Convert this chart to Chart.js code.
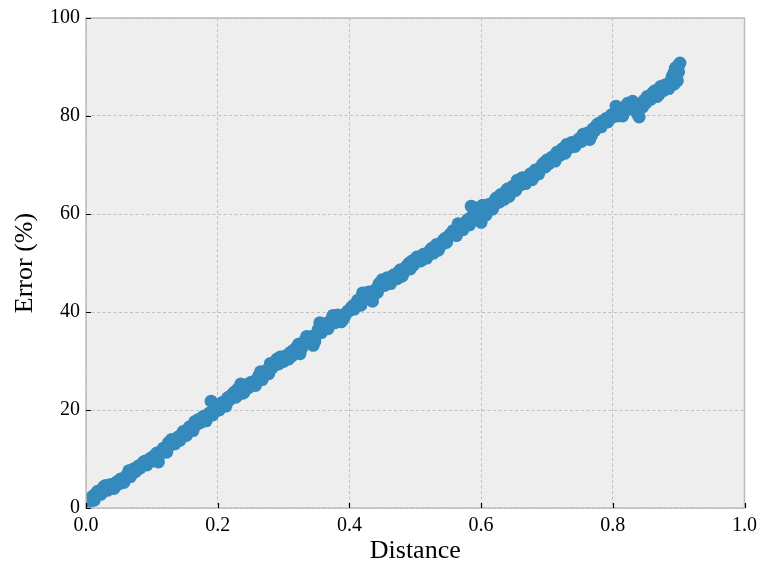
<!DOCTYPE html>
<html>
<head>
<meta charset="utf-8">
<script src="https://cdn.jsdelivr.net/npm/chart.js@4/dist/chart.umd.min.js"></script>
<style>
  html, body { margin: 0; padding: 0; background: #ffffff; }
  #wrap { width: 763px; height: 567px; }
</style>
</head>
<body>
<div id="wrap"><canvas id="c" width="763" height="567"></canvas></div>
<script>
// Distance vs. error measurements, run A
const distanceA = [
  0.000, 0.005, 0.010, 0.015, 0.020, 0.025, 0.030, 0.035, 0.040, 0.045,
  0.050, 0.055, 0.060, 0.065, 0.070, 0.075, 0.080, 0.085, 0.090, 0.095,
  0.100, 0.105, 0.110, 0.115, 0.120, 0.125, 0.130, 0.135, 0.140, 0.145,
  0.150, 0.155, 0.160, 0.165, 0.170, 0.175, 0.180, 0.185, 0.190, 0.195,
  0.200, 0.205, 0.210, 0.215, 0.220, 0.225, 0.230, 0.235, 0.240, 0.245,
  0.250, 0.255, 0.260, 0.265, 0.270, 0.275, 0.280, 0.285, 0.290, 0.295,
  0.300, 0.305, 0.310, 0.315, 0.320, 0.325, 0.330, 0.335, 0.340, 0.345,
  0.350, 0.355, 0.360, 0.365, 0.370, 0.375, 0.380, 0.385, 0.390, 0.395,
  0.400, 0.405, 0.410, 0.415, 0.420, 0.425, 0.430, 0.435, 0.440, 0.445,
  0.450, 0.455, 0.460, 0.465, 0.470, 0.475, 0.480, 0.485, 0.490, 0.495,
  0.500, 0.505, 0.510, 0.515, 0.520, 0.525, 0.530, 0.535, 0.540, 0.545,
  0.550, 0.555, 0.560, 0.565, 0.570, 0.575, 0.580, 0.585, 0.590, 0.595,
  0.600, 0.605, 0.610, 0.615, 0.620, 0.625, 0.630, 0.635, 0.640, 0.645,
  0.650, 0.655, 0.660, 0.665, 0.670, 0.675, 0.680, 0.685, 0.690, 0.695,
  0.700, 0.705, 0.710, 0.715, 0.720, 0.725, 0.730, 0.735, 0.740, 0.745,
  0.750, 0.755, 0.760, 0.765, 0.770, 0.775, 0.780, 0.785, 0.790, 0.795,
  0.800, 0.805, 0.810, 0.815, 0.820, 0.825, 0.830, 0.835, 0.840, 0.845,
  0.850, 0.855, 0.860, 0.865, 0.870, 0.875, 0.880, 0.885, 0.890, 0.895,
  0.900, 0.893, 0.898, 0.900, 0.902
];
const errorPctA = [
   1.2,  1.8,  2.4,  2.9,  3.3,  3.9,  4.6,  4.2,  4.5,  5.1,
   4.9,  5.6,  6.3,  7.6,  7.1,  7.4,  8.6,  8.9,  9.6,  9.4,
  10.3, 10.8,  9.4, 11.6, 12.0, 13.3, 14.0, 13.1, 14.5, 15.0,
  15.2, 16.1, 16.4, 17.6, 18.0, 17.5, 18.8, 19.0, 21.8, 19.7,
  20.4, 21.2, 21.4, 22.5, 22.9, 23.6, 24.2, 25.3, 23.6, 25.2,
  25.6, 25.8, 26.3, 27.8, 27.0, 28.2, 29.5, 29.0, 30.4, 30.8,
  29.9, 30.6, 31.7, 32.2, 32.8, 31.5, 33.6, 35.0, 34.6, 33.2,
  35.4, 37.8, 36.8, 37.2, 38.0, 39.3, 38.6, 38.8, 38.4, 39.7,
  40.3, 41.2, 41.6, 42.0, 43.9, 43.0, 44.1, 42.2, 44.6, 45.8,
  46.6, 45.6, 46.4, 46.9, 47.4, 48.2, 47.3, 49.0, 49.9, 50.4,
  50.8, 51.0, 50.6, 51.6, 52.1, 53.0, 53.3, 52.6, 53.9, 55.0,
  55.3, 55.9, 56.2, 58.0, 57.4, 57.8, 58.9, 61.6, 59.2, 61.3,
  58.3, 60.7, 61.0, 61.4, 62.6, 63.4, 64.0, 63.0, 65.1, 64.3,
  65.6, 66.9, 66.0, 67.3, 66.7, 68.2, 67.6, 68.6, 69.4, 70.4,
  71.0, 70.6, 71.6, 72.6, 72.0, 73.4, 74.2, 73.6, 74.0, 74.6,
  75.4, 76.3, 75.6, 75.2, 77.4, 78.0, 78.5, 79.0, 79.5, 79.6,
  79.8, 82.0, 80.4, 80.0, 81.2, 82.4, 83.0, 81.0, 79.8, 81.8,
  82.6, 83.5, 84.6, 85.2, 84.4, 85.8, 86.4, 85.6, 88.0, 89.8,
  90.4, 86.5, 87.2, 89.0, 90.8
];
// run B, sampled half a step later
const distanceB = [
  0.0025, 0.0075, 0.0125, 0.0175, 0.0225, 0.0275, 0.0325, 0.0375, 0.0425, 0.0475,
  0.0525, 0.0575, 0.0625, 0.0675, 0.0725, 0.0775, 0.0825, 0.0875, 0.0925, 0.0975,
  0.1025, 0.1075, 0.1125, 0.1175, 0.1225, 0.1275, 0.1325, 0.1375, 0.1425, 0.1475,
  0.1525, 0.1575, 0.1625, 0.1675, 0.1725, 0.1775, 0.1825, 0.1875, 0.1925, 0.1975,
  0.2025, 0.2075, 0.2125, 0.2175, 0.2225, 0.2275, 0.2325, 0.2375, 0.2425, 0.2475,
  0.2525, 0.2575, 0.2625, 0.2675, 0.2725, 0.2775, 0.2825, 0.2875, 0.2925, 0.2975,
  0.3025, 0.3075, 0.3125, 0.3175, 0.3225, 0.3275, 0.3325, 0.3375, 0.3425, 0.3475,
  0.3525, 0.3575, 0.3625, 0.3675, 0.3725, 0.3775, 0.3825, 0.3875, 0.3925, 0.3975,
  0.4025, 0.4075, 0.4125, 0.4175, 0.4225, 0.4275, 0.4325, 0.4375, 0.4425, 0.4475,
  0.4525, 0.4575, 0.4625, 0.4675, 0.4725, 0.4775, 0.4825, 0.4875, 0.4925, 0.4975,
  0.5025, 0.5075, 0.5125, 0.5175, 0.5225, 0.5275, 0.5325, 0.5375, 0.5425, 0.5475,
  0.5525, 0.5575, 0.5625, 0.5675, 0.5725, 0.5775, 0.5825, 0.5875, 0.5925, 0.5975,
  0.6025, 0.6075, 0.6125, 0.6175, 0.6225, 0.6275, 0.6325, 0.6375, 0.6425, 0.6475,
  0.6525, 0.6575, 0.6625, 0.6675, 0.6725, 0.6775, 0.6825, 0.6875, 0.6925, 0.6975,
  0.7025, 0.7075, 0.7125, 0.7175, 0.7225, 0.7275, 0.7325, 0.7375, 0.7425, 0.7475,
  0.7525, 0.7575, 0.7625, 0.7675, 0.7725, 0.7775, 0.7825, 0.7875, 0.7925, 0.7975,
  0.8025, 0.8075, 0.8125, 0.8175, 0.8225, 0.8275, 0.8325, 0.8375, 0.8425, 0.8475,
  0.8525, 0.8575, 0.8625, 0.8675, 0.8725, 0.8775, 0.8825, 0.8875, 0.8925, 0.8975
];
const errorPctB = [
   0.8,  2.0,  1.6,  3.4,  2.8,  4.4,  3.6,  4.8,  4.0,  5.4,
   5.9,  5.2,  6.8,  6.4,  8.0,  7.8,  8.2,  9.4,  8.8, 10.1,
   9.6, 11.2, 11.0, 12.2, 11.4, 12.8, 13.9, 14.2, 13.8, 15.6,
  14.8, 16.6, 15.8, 17.0, 17.4, 18.6, 17.8, 19.4, 19.0, 20.6,
  20.0, 21.6, 20.8, 22.0, 23.2, 22.6, 24.0, 23.4, 24.8, 24.6,
  25.4, 25.0, 27.0, 26.2, 27.6, 27.4, 28.6, 29.8, 29.4, 30.2,
  31.0, 30.4, 31.0, 31.6, 33.4, 32.6, 34.2, 33.8, 35.0, 34.0,
  36.4, 35.8, 37.6, 36.6, 38.4, 37.8, 39.4, 38.0, 39.0, 40.2,
  40.8, 40.6, 42.4, 41.4, 42.6, 44.0, 43.4, 43.8, 44.0, 45.2,
  45.4, 47.0, 45.8, 47.6, 46.8, 48.6, 48.0, 49.4, 48.8, 49.6,
  51.2, 50.4, 51.8, 51.0, 52.6, 52.0, 53.8, 53.4, 54.6, 54.2,
  55.8, 56.6, 55.6, 57.2, 56.8, 58.4, 57.8, 59.8, 60.4, 59.6,
  61.8, 59.8, 62.0, 61.0, 63.2, 62.4, 63.8, 64.6, 63.6, 65.6,
  64.8, 65.8, 67.4, 66.2, 67.8, 67.0, 69.0, 68.2, 70.0, 69.6,
  70.2, 71.6, 70.8, 72.2, 73.2, 72.4, 73.8, 74.6, 73.8, 75.2,
  74.8, 76.0, 76.6, 76.0, 77.0, 78.4, 77.8, 79.0, 78.8, 80.2,
  80.6, 80.0, 81.6, 80.8, 82.6, 81.8, 82.4, 80.4, 82.0, 83.2,
  84.0, 83.4, 85.0, 84.0, 86.0, 85.2, 86.2, 87.0, 88.8, 90.0
];
const xTicks = [0.0, 0.2, 0.4, 0.6, 0.8, 1.0];
const yTicks = [0, 20, 40, 60, 80, 100];

const points = distanceA.map((d, i) => ({ x: d, y: errorPctA[i] }))
  .concat(distanceB.map((d, i) => ({ x: d, y: errorPctB[i] })));

const FONT = "'Liberation Serif', 'Times New Roman', serif";

// plot-area background, inward tick marks and light spines
const frame = {
  id: 'frame',
  beforeDraw(chart) {
    const { ctx, chartArea: a } = chart;
    ctx.save();
    ctx.fillStyle = '#eeeeee';
    ctx.fillRect(a.left, a.top, a.right - a.left, a.bottom - a.top);
    ctx.restore();
  },
  afterDraw(chart) {
    const { ctx, chartArea: a, scales } = chart;
    ctx.save();
    ctx.strokeStyle = '#bcbcbc';
    ctx.lineWidth = 1.5;
    ctx.strokeRect(a.left, a.top, a.right - a.left, a.bottom - a.top);
    ctx.strokeStyle = '#000000';
    ctx.lineWidth = 1.2;
    ctx.beginPath();
    xTicks.forEach(v => {
      const px = Math.round(scales.x.getPixelForValue(v)) + 0.5;
      ctx.moveTo(px, a.bottom);
      ctx.lineTo(px, a.bottom - 5);
    });
    yTicks.forEach(v => {
      const py = Math.round(scales.y.getPixelForValue(v)) + 0.5;
      ctx.moveTo(a.left, py);
      ctx.lineTo(a.left + 5, py);
    });
    ctx.stroke();
    ctx.restore();
  }
};

new Chart(document.getElementById('c'), {
  type: 'scatter',
  data: {
    datasets: [{
      data: points,
      backgroundColor: '#348abd',
      borderWidth: 0,
      pointRadius: 6.5,
      pointHoverRadius: 6.5
    }]
  },
  options: {
    responsive: false,
    animation: false,
    events: [],
    layout: { padding: { top: 17, right: 18, left: 0, bottom: 0 } },
    plugins: { legend: { display: false }, tooltip: { enabled: false } },
    scales: {
      x: {
        type: 'linear',
        min: 0, max: 1,
        afterBuildTicks(scale) { scale.ticks = xTicks.map(v => ({ value: v })); },
        afterFit(scale) { scale.height = 59; },
        grid: { color: '#b2b2b2', lineWidth: 0.8, drawTicks: false },
        border: { display: false, dash: [3, 2.5] },
        ticks: {
          color: '#000000',
          padding: 6,
          maxRotation: 0,
          font: { family: FONT, size: 20 },
          callback: v => v.toFixed(1)
        },
        title: {
          display: true,
          text: 'Distance',
          color: '#000000',
          padding: { top: 0, bottom: 0 },
          font: { family: FONT, size: 26 }
        }
      },
      y: {
        type: 'linear',
        min: 0, max: 100,
        afterBuildTicks(scale) { scale.ticks = yTicks.map(v => ({ value: v })); },
        afterFit(scale) { scale.width = 86; },
        grid: { color: '#b2b2b2', lineWidth: 0.8, drawTicks: false },
        border: { display: false, dash: [3, 2.5] },
        ticks: {
          color: '#000000',
          padding: 6,
          font: { family: FONT, size: 20 },
          callback: v => String(v)
        },
        title: {
          display: true,
          text: 'Error (%)',
          color: '#000000',
          padding: { top: 10, bottom: 6 },
          font: { family: FONT, size: 26 }
        }
      }
    }
  },
  plugins: [frame]
});
</script>
</body>
</html>
